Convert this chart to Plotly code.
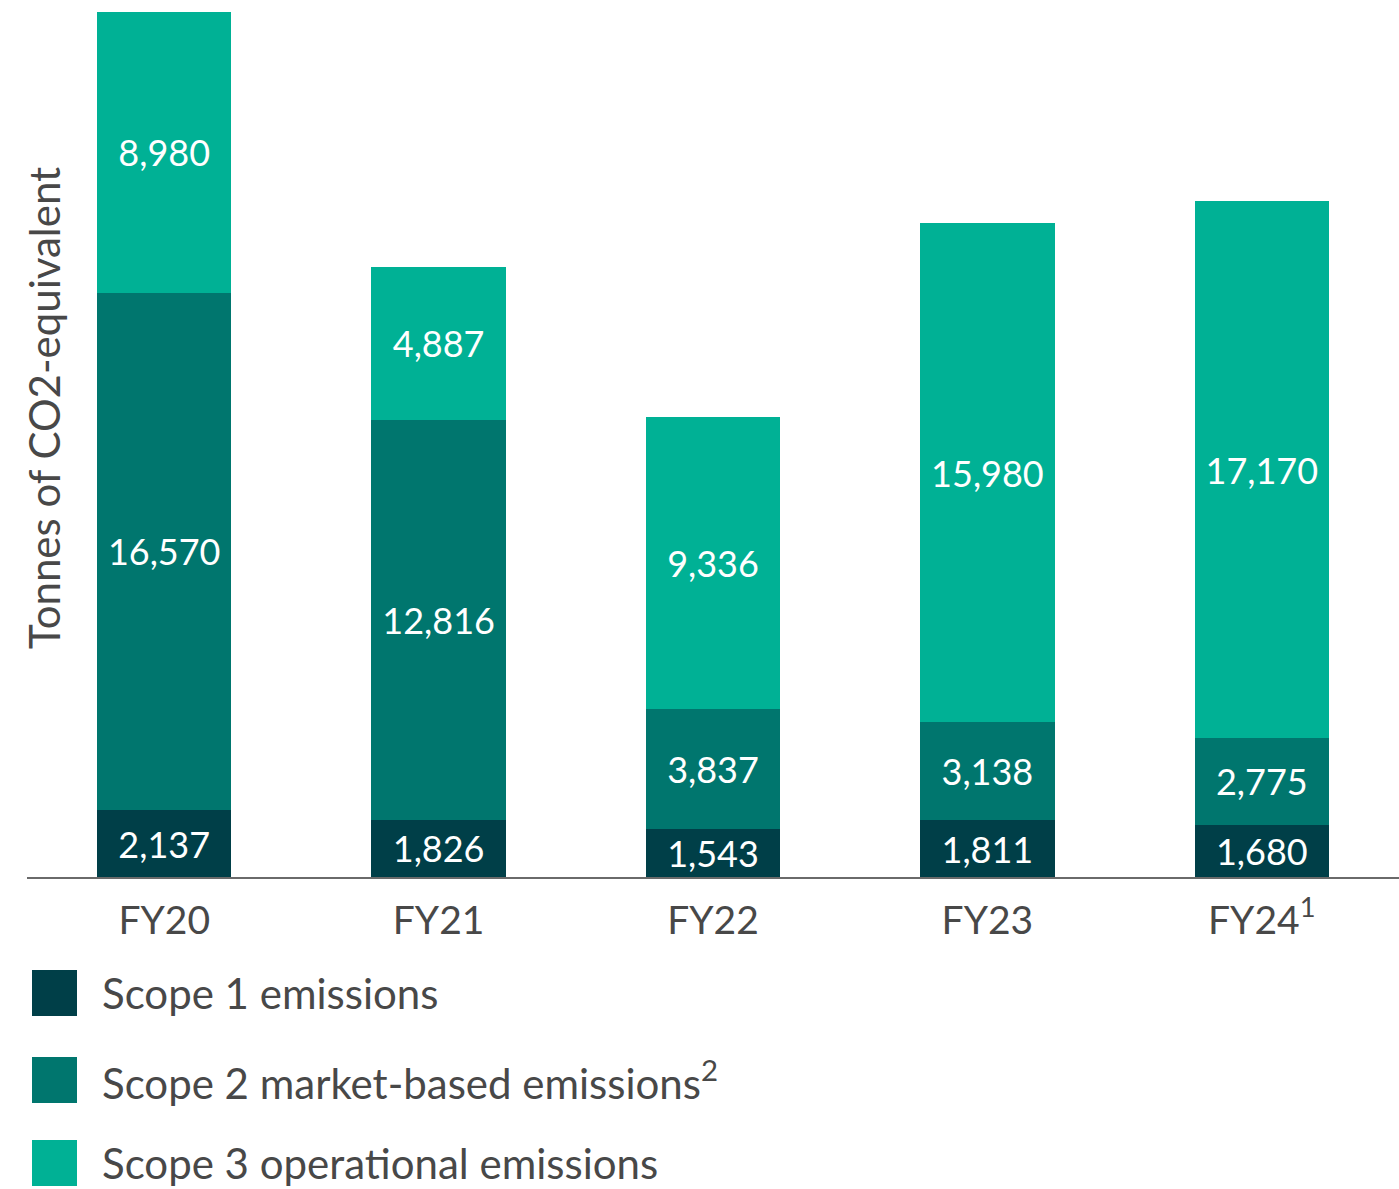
import plotly.graph_objects as go

years = ["FY20", "FY21", "FY22", "FY23", "FY24<sup>1</sup>"]
scope1 = [2137, 1826, 1543, 1811, 1680]
scope2 = [16570, 12816, 3837, 3138, 2775]
scope3 = [8980, 4887, 9336, 15980, 17170]

series_names = [
    "Scope 1 emissions",
    "Scope 2 market-based emissions<sup>2</sup>",
    "Scope 3 operational emissions",
]
series_values = [scope1, scope2, scope3]
colors = ["#003F48", "#00766E", "#00B195"]

FONT = "Lato"
GRAY = "#484848"

fig = go.Figure()
for name, vals, col in zip(series_names, series_values, colors):
    fig.add_trace(go.Bar(
        x=years, y=vals, name=name,
        marker=dict(color=col, line=dict(width=0)),
        text=[f"{v:,}" for v in vals],
        textposition="inside",
        insidetextanchor="middle",
        constraintext="none",
        textfont=dict(color="white", size=36, family=FONT),
        hoverinfo="skip",
        showlegend=False,
    ))

W, H = 1399, 1189
ml, mr, mt, mb = 27, 0, 0, 312
plot_h = H - mt - mb
plot_w = W - ml - mr

fig.update_layout(
    width=W, height=H,
    barmode="stack",
    bargap=0.51,
    plot_bgcolor="white", paper_bgcolor="white",
    margin=dict(l=ml, r=mr, t=mt, b=mb),
    font=dict(family=FONT, color=GRAY, size=38),
    xaxis=dict(
        showline=True, linecolor="#6a6a6a", linewidth=2,
        showgrid=False, ticks="", tickfont=dict(size=39, color=GRAY),
        ticklabelstandoff=8,
    ),
    yaxis=dict(
        range=[0, 28071], showgrid=False, showline=False,
        showticklabels=False, zeroline=False, ticks="",
    ),
)

# y-axis title (placed inside the plot area like the reference)
fig.add_annotation(
    text="Tonnes of CO2-equivalent", textangle=-90,
    xref="paper", yref="paper",
    x=(17 - ml) / plot_w, y=(plot_h - 408) / plot_h,
    showarrow=False, font=dict(size=42, color=GRAY, family=FONT),
)

# custom legend with large square swatches
legend_rows = [993, 1080, 1163]
for name, col, cy in zip(series_names, colors, legend_rows):
    fig.add_shape(
        type="rect", xref="paper", yref="paper",
        x0=(32 - ml) / plot_w, x1=(77 - ml) / plot_w,
        y0=(plot_h - (cy + 23)) / plot_h, y1=(plot_h - (cy - 23)) / plot_h,
        fillcolor=col, line=dict(width=0),
    )
    fig.add_annotation(
        text=name, xref="paper", yref="paper",
        x=(100 - ml) / plot_w, y=(plot_h - cy) / plot_h,
        xanchor="left", yanchor="middle", showarrow=False,
        font=dict(size=42, color=GRAY, family=FONT),
    )

fig.write_html(
    "out.html",
    config={"displayModeBar": False},
    post_script="document.body.style.margin='0';",
)
